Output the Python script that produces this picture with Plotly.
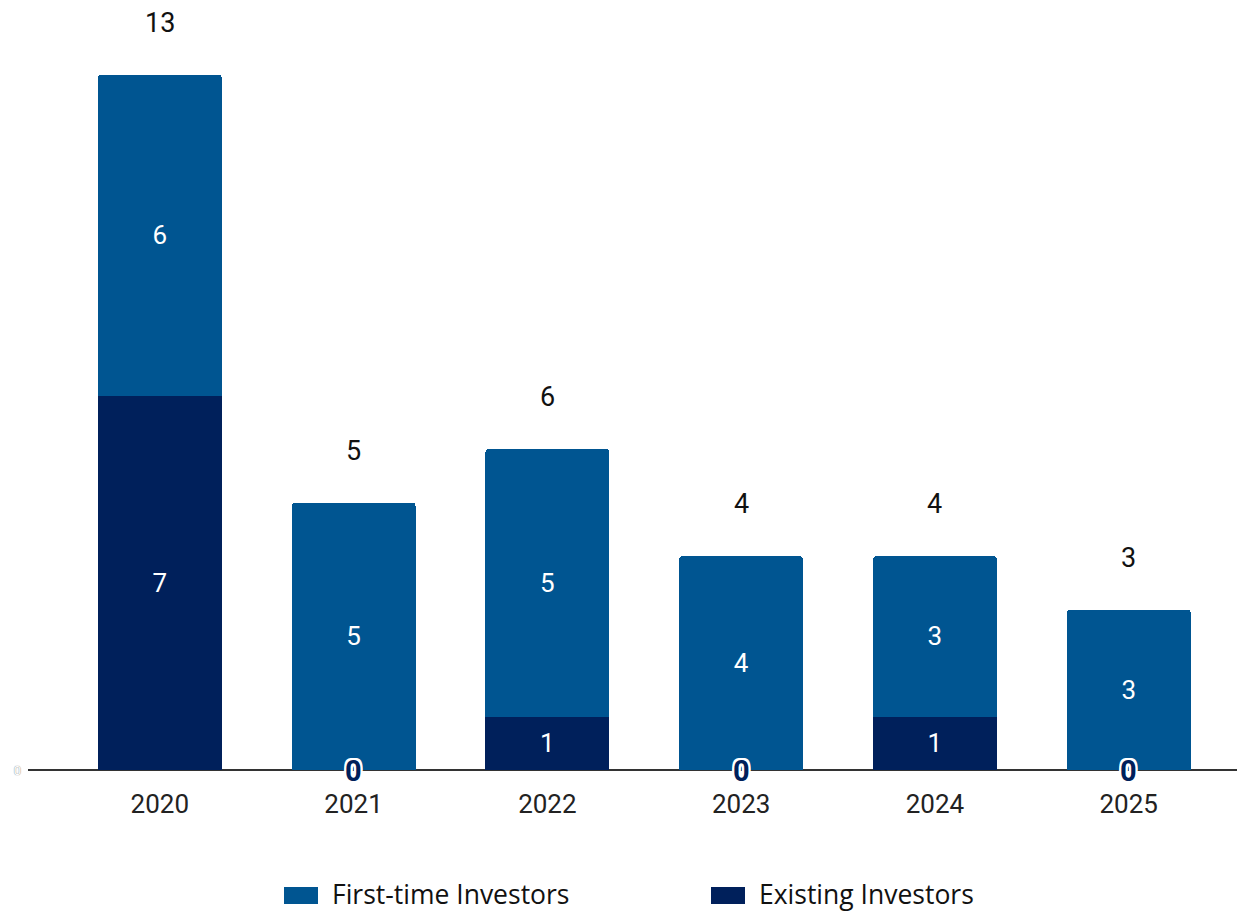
import plotly.graph_objects as go

years = ["2020", "2021", "2022", "2023", "2024", "2025"]
first_time = [6, 5, 5, 4, 3, 3]
existing = [7, 0, 1, 0, 1, 0]
totals = [f + e for f, e in zip(first_time, existing)]
series_names = ["First-time Investors", "Existing Investors"]

C_FIRST = "#005591"
C_EXIST = "#00205B"

fig = go.Figure()
fig.add_trace(go.Bar(
    x=years, y=existing, name=series_names[1],
    marker=dict(color=C_EXIST, line=dict(width=0)),
    text=[str(v) if v else "" for v in existing],
    textposition="inside", insidetextanchor="middle",
    textfont=dict(family="Roboto", size=26, color="white"),
    hoverinfo="skip", showlegend=False,
))
fig.add_trace(go.Bar(
    x=years, y=first_time, name=series_names[0],
    marker=dict(color=C_FIRST, line=dict(width=0)),
    text=[str(v) if v else "" for v in first_time],
    textposition="inside", insidetextanchor="middle",
    textfont=dict(family="Roboto", size=26, color="white"),
    hoverinfo="skip", showlegend=False,
))

halo = "-1px -1px 0 #fff, 1px -1px 0 #fff, -1px 1px 0 #fff, 1px 1px 0 #fff, 0 0 3px #fff"
halo2 = ("-2px -2px 0 #fff, 2px -2px 0 #fff, -2px 2px 0 #fff, 2px 2px 0 #fff, "
         "0 -2px 0 #fff, 0 2px 0 #fff, -2px 0 0 #fff, 2px 0 0 #fff")
# category axis: annotations positioned by category index
for i, t in enumerate(totals):
    fig.add_annotation(x=i, y=t, xref="x", yref="y", text=str(t), showarrow=False,
                       yanchor="middle", yshift=52,
                       font=dict(family="Roboto", size=27, color="#111", shadow=halo))
for i, e in enumerate(existing):
    if e == 0:
        fig.add_annotation(x=i, y=0, xref="x", yref="y", text="<b>0</b>", showarrow=False,
                           yanchor="middle", yshift=-1,
                           font=dict(family="Roboto", size=29, color=C_EXIST, shadow=halo2))

# page body has an 8px margin; figure placed at (8,8)
OFF = 8
PL, PT, PW, PH = 28, 21, 1217, 749  # plot area in screenshot pixels
def px_x(p):
    return (p - PL) / PW
def px_y(p):
    return (PT + PH - p) / PH

leg_colors = [C_FIRST, C_EXIST]
leg_x = [(284, 318, 330), (711, 745, 757)]
for name, col, (a, b, tx) in zip(series_names, leg_colors, leg_x):
    fig.add_shape(type="rect", xref="paper", yref="paper",
                  x0=px_x(a), x1=px_x(b), y0=px_y(904), y1=px_y(887),
                  fillcolor=col, line=dict(width=0))
    fig.add_annotation(xref="paper", yref="paper", x=px_x(tx), y=px_y(893.5),
                       xanchor="left", yanchor="middle", text=name, showarrow=False,
                       font=dict(family="Open Sans", size=26.5, color="#111"))

H = 912 - OFF
fig.update_layout(
    width=1245 - OFF, height=H,
    margin=dict(l=PL - OFF, r=0, t=PT - OFF, b=H - (PT - OFF) - PH, autoexpand=False),
    barmode="stack", bargap=0.36, barcornerradius=4,
    paper_bgcolor="white", plot_bgcolor="white",
    showlegend=False,
    xaxis=dict(type="category", range=[-0.68, 5.6], showgrid=False, showline=False,
               ticks="", automargin=False, ticklabelstandoff=16,
               tickfont=dict(family="Roboto", size=26, color="#222")),
    yaxis=dict(range=[0, 14], showgrid=False, zeroline=True, automargin=False,
               zerolinecolor="#333", zerolinewidth=2, tickvals=[0],
               ticklabelstandoff=6,
               tickfont=dict(family="Roboto", size=13, color="#ffffff",
                             shadow="0 0 1px #999, 0 0 1px #999"),
               ticks="", showline=False),
)

fig.write_html("out.html")
